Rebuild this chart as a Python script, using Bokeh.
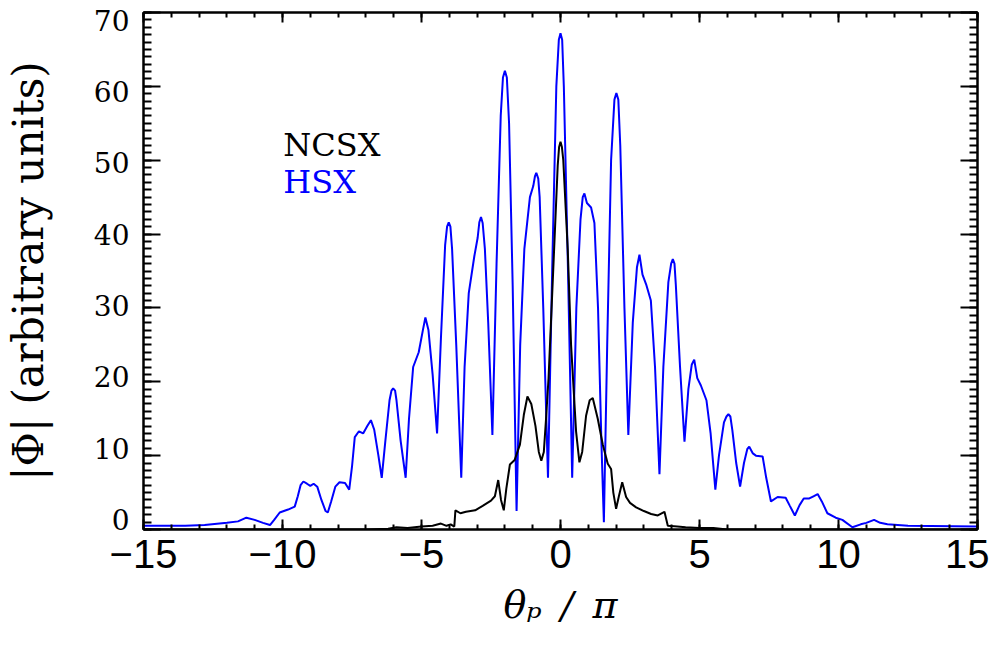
from bokeh.plotting import figure
from bokeh.models import Range1d, LinearAxis, SingleIntervalTicker, Label, CustomJSTickFormatter
from bokeh.embed import file_html
from bokeh.resources import INLINE

# HSX curve (blue): theta_p / pi, |Phi|
hsx_x = [-15.0, -13.5, -12.8, -12.0, -11.6, -11.3, -11.0, -10.7, -10.45, -10.3,
         -10.1, -9.8, -9.56, -9.45, -9.35, -9.25, -9.12, -9.0, -8.88, -8.75,
         -8.6, -8.45, -8.37, -8.25, -8.1, -7.95, -7.75, -7.6, -7.5, -7.4,
         -7.25, -7.1, -6.95, -6.82, -6.7, -6.55, -6.43, -6.3, -6.15, -6.08, -6.02,
         -5.95, -5.9, -5.75, -5.57, -5.45, -5.3, -5.1, -4.95, -4.86, -4.75, -4.6,
         -4.44, -4.3, -4.15, -4.08, -4.02, -3.96, -3.9, -3.75, -3.57, -3.45, -3.3, -3.1,
         -2.98, -2.92, -2.86, -2.8, -2.72, -2.6, -2.45, -2.3, -2.15, -2.07, -2.0, -1.93, -1.85, -1.72,
         -1.58, -1.45, -1.3, -1.1, -0.98, -0.92, -0.87, -0.8, -0.75, -0.62, -0.45, -0.3,
         -0.15, -0.06, 0.0, 0.06, 0.12, 0.27, 0.42, 0.57, 0.72, 0.8, 0.86, 0.95, 1.1,
         1.22, 1.35, 1.47, 1.56, 1.68, 1.82, 1.94, 2.01, 2.08, 2.15, 2.3, 2.44,
         2.6, 2.75, 2.84, 2.95, 3.08, 3.25, 3.4, 3.56, 3.7, 3.88, 3.98,
         4.04, 4.1, 4.15, 4.3, 4.46, 4.6, 4.72, 4.81, 4.92, 5.05, 5.25,
         5.4, 5.57, 5.7, 5.88, 5.97, 6.04, 6.11, 6.18, 6.32, 6.46, 6.6, 6.72, 6.79,
         6.92, 7.03, 7.27, 7.4, 7.57, 7.81, 8.1, 8.25, 8.43, 8.6,
         8.75, 8.95, 9.1, 9.25, 9.4, 9.6, 9.9, 10.14, 10.5, 10.8,
         11.0, 11.28, 11.5, 11.76, 12.5, 15.0]
hsx_y = [0.5, 0.5, 0.6, 0.9, 1.1, 1.6, 1.3, 0.9, 0.6, 1.3,
         2.3, 2.7, 3.1, 4.5, 6.0, 6.5, 6.2, 5.9, 6.2, 5.8,
         4.0, 2.5, 2.3, 3.8, 5.8, 6.4, 6.3, 5.4, 8.5, 12.5,
         13.3, 13.0, 14.0, 14.8, 13.5, 10.0, 7.0, 12.0, 17.5, 18.8, 19.1,
         18.8, 17.5, 12.0, 7.0, 15.0, 22.0, 24.0, 27.0, 28.7, 27.0, 21.0,
         13.0, 26.0, 38.5, 41.0, 41.6, 41.0, 38.0, 25.0, 7.0, 22.0, 32.0, 37.0,
         39.5, 41.6, 42.3, 41.5, 38.0, 28.0, 12.8, 36.0, 56.0, 61.2, 62.1, 61.2, 55.0, 33.0,
         2.5, 25.0, 38.0, 45.0, 46.5, 47.8, 48.3, 47.5, 45.0, 30.0, 7.0, 35.0,
         60.0, 66.3, 67.2, 66.3, 60.0, 35.0, 7.0, 30.0, 42.0, 45.0, 45.5, 44.2, 43.6,
         41.5, 30.0, 12.0, 1.0, 25.0, 50.0, 58.2, 59.1, 58.2, 52.0, 30.0, 12.8,
         28.0, 35.5, 37.2, 34.5, 33.2, 31.0, 22.0, 7.5, 22.0, 33.5, 36.0,
         36.6, 36.0, 33.0, 22.0, 11.9, 19.0, 22.3, 23.0, 20.5, 19.5, 17.5,
         13.0, 5.4, 10.0, 14.5, 15.3, 15.6, 15.3, 13.5, 9.0, 5.8, 9.0, 10.9, 11.2,
         10.3, 10.0, 9.9, 7.0, 3.8, 4.4, 4.3, 3.2, 1.9, 3.3,
         4.2, 4.2, 4.5, 4.8, 3.8, 2.2, 1.6, 1.3, 0.3, 0.7,
         0.9, 1.3, 0.9, 0.7, 0.5, 0.4]

# NCSX curve (black)
ncsx_x = [-15.0, -7.0, -6.2, -5.9, -5.5, -5.0, -4.6, -4.3, -4.1, -3.95,
          -3.82, -3.78, -3.6, -3.4, -3.07, -2.8, -2.5, -2.36, -2.24, -2.14,
          -2.04, -1.95, -1.82, -1.65, -1.46, -1.32, -1.19, -1.05, -0.9, -0.78,
          -0.69, -0.6, -0.52, -0.43, -0.27, -0.1, -0.05, 0.0, 0.05, 0.1, 0.26, 0.38,
          0.56, 0.68, 0.78, 0.92, 1.05, 1.16, 1.34, 1.52, 1.7, 1.82,
          1.9, 2.0, 2.1, 2.22, 2.36, 2.5, 2.72, 3.0, 3.26, 3.5,
          3.74, 3.86, 4.2, 4.5, 5.0, 5.5, 6.0, 15.0]
ncsx_y = [0.0, 0.0, 0.1, 0.3, 0.2, 0.4, 0.5, 0.8, 0.5, 0.7,
          0.4, 2.6, 2.2, 2.4, 2.6, 3.2, 3.9, 4.5, 6.7, 4.0,
          2.6, 5.5, 8.8, 9.4, 11.5, 15.5, 18.0, 17.0, 14.0, 10.5,
          9.3, 10.5, 15.0, 20.5, 34.4, 49.3, 51.8, 52.5, 51.8, 50.0, 38.0, 25.0,
          13.3, 9.1, 10.5, 15.4, 17.5, 17.8, 15.0, 11.5, 8.9, 8.2,
          5.0, 2.8, 4.5, 6.4, 4.4, 3.6, 3.0, 2.5, 2.1, 1.9,
          2.4, 0.5, 0.4, 0.3, 0.2, 0.2, 0.0, 0.0]

x_tick_labels = {-15: "\u221215", -10: "\u221210", -5: "\u22125", 0: "0", 5: "5", 10: "10", 15: "15"}
legend_names = ["NCSX", "HSX"]
y_title = "|\u03a6| (arbitrary units)"
x_title = "\u03b8\u209a\u2002/\u2002\u03c0"

SERIF = "DejaVu Serif"
SANS = "Liberation Sans"

p = figure(width=989, height=638, x_range=Range1d(-15, 15), y_range=Range1d(0, 70),
           output_backend="svg", toolbar_location=None,
           min_border_left=142, min_border_right=12, min_border_top=12, min_border_bottom=109,
           background_fill_color="white", border_fill_color="white")
p.xgrid.visible = False
p.ygrid.visible = False
p.outline_line_color = "black"
p.outline_line_width = 2
# the tick numbers of the left axis sit slightly inside the tick marks in the original
p.extra_y_ranges = {"ylab": Range1d(-1.4, 71.1)}

p.line(hsx_x, hsx_y, line_color="#0000ff", line_width=2)
p.line(ncsx_x, ncsx_y, line_color="black", line_width=2)

blank = CustomJSTickFormatter(code="return ''")

# bottom axis
xa = p.xaxis[0]
xa.ticker = SingleIntervalTicker(interval=5, num_minor_ticks=5)
xa.major_label_overrides = x_tick_labels
xa.major_label_text_font = SANS
xa.major_label_text_font_size = "40px"
xa.major_label_text_color = "black"
xa.major_label_standoff = 10
xa.major_tick_in = 10
xa.major_tick_out = 0
xa.minor_tick_in = 5
xa.minor_tick_out = 0
xa.axis_line_width = 2
xa.major_tick_line_width = 2
xa.minor_tick_line_width = 2
xa.axis_label = x_title
xa.axis_label_text_font = SERIF
xa.axis_label_text_font_style = "italic"
xa.axis_label_text_font_size = "38px"
xa.axis_label_text_color = "black"
xa.axis_label_standoff = 12

# left axis: ticks only
ya = p.yaxis[0]
ya.ticker = SingleIntervalTicker(interval=10, num_minor_ticks=10)
ya.formatter = blank
ya.major_label_text_font_size = "0px"
ya.major_label_standoff = 0
ya.major_tick_in = 17
ya.major_tick_out = 0
ya.minor_tick_in = 8
ya.minor_tick_out = 0
ya.axis_line_width = 2
ya.major_tick_line_width = 2
ya.minor_tick_line_width = 2

# left axis: numbers and title
yl = LinearAxis(y_range_name="ylab", ticker=SingleIntervalTicker(interval=10, num_minor_ticks=0),
                axis_line_color=None, major_tick_line_color=None, minor_tick_line_color=None,
                major_tick_in=0, major_tick_out=0, minor_tick_in=0, minor_tick_out=0,
                major_label_text_font=SERIF, major_label_text_font_size="28px",
                major_label_text_color="black", major_label_standoff=14,
                axis_label=y_title, axis_label_text_font=SERIF, axis_label_text_font_style="normal",
                axis_label_text_font_size="42px", axis_label_text_color="black",
                axis_label_standoff=38)
p.add_layout(yl, "left")

top = LinearAxis(ticker=SingleIntervalTicker(interval=5, num_minor_ticks=5), formatter=blank,
                 major_tick_in=10, major_tick_out=0, minor_tick_in=5, minor_tick_out=0,
                 major_label_text_font_size="0px", major_label_standoff=0,
                 axis_line_width=2, major_tick_line_width=2, minor_tick_line_width=2)
right = LinearAxis(ticker=SingleIntervalTicker(interval=10, num_minor_ticks=10), formatter=blank,
                   major_tick_in=17, major_tick_out=0, minor_tick_in=8, minor_tick_out=0,
                   major_label_text_font_size="0px", major_label_standoff=0,
                   axis_line_width=2, major_tick_line_width=2, minor_tick_line_width=2)
p.add_layout(top, "above")
p.add_layout(right, "right")

# legend texts
p.add_layout(Label(x=-9.97, y=52.0, text=legend_names[0], text_font=SERIF, text_font_size="32px",
                   text_color="black", text_baseline="middle", text_align="left"))
p.add_layout(Label(x=-9.97, y=47.0, text=legend_names[1], text_font=SERIF, text_font_size="32px",
                   text_color="#0000ff", text_baseline="middle", text_align="left"))

open("out.html", "w").write(file_html(p, INLINE))
